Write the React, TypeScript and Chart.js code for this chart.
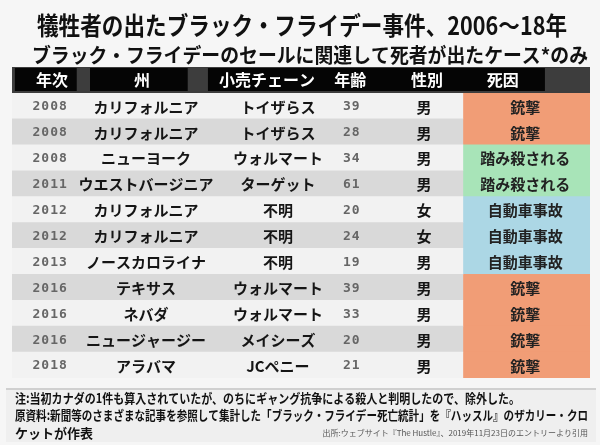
import { useEffect, useRef } from "react";
import { Chart, registerables } from "chart.js";
Chart.register(...registerables);

const titleText = "犠牲者の出たブラック・フライデー事件、2006～18年";
const subtitleText = "ブラック・フライデーのセールに関連して死者が出たケース*のみ";
const headers = ["年次", "州", "小売チェーン", "年齢", "性別", "死因"];
const years = ["2008", "2008", "2008", "2011", "2012", "2012", "2013", "2016", "2016", "2016", "2018"];
const states = ["カリフォルニア", "カリフォルニア", "ニューヨーク", "ウエストバージニア", "カリフォルニア", "カリフォルニア", "ノースカロライナ", "テキサス", "ネバダ", "ニュージャージー", "アラバマ"];
const chains = ["トイザらス", "トイザらス", "ウォルマート", "ターゲット", "不明", "不明", "不明", "ウォルマート", "ウォルマート", "メイシーズ", "JCペニー"];
const ages = ["39", "28", "34", "61", "20", "24", "19", "39", "33", "20", "21"];
const genders = ["男", "男", "男", "男", "女", "女", "男", "男", "男", "男", "男"];
const causes = ["銃撃", "銃撃", "踏み殺される", "踏み殺される", "自動車事故", "自動車事故", "自動車事故", "銃撃", "銃撃", "銃撃", "銃撃"];
const causeColors: Record<string, string> = {
  銃撃: "#F19D76",
  踏み殺される: "#A8E4B8",
  自動車事故: "#ACD7E5",
};
const noteLines = [
  "注:当初カナダの1件も算入されていたが、のちにギャング抗争による殺人と判明したので、除外した。",
  "原資料:新聞等のさまざまな記事を参照して集計した「ブラック・フライデー死亡統計」を『ハッスル』のザカリー・クロ",
  "ケットが作表",
];
const sourceText = "出所:ウェブサイト『The Hustle』、2019年11月23日のエントリーより引用";

// column layout in x-scale units (0..100)
const colCenters = [6.6, 23.2, 46.0, 58.8, 71.3, 88.8];
const headerCenters = [6.9, 22.5, 44.1, 58.5, 71.8, 84.9];
const headerBoxes = [[0.5, 11.2], [13.5, 30.4], [33.9, 92.2]];
const causeStart = 78;

const JP = '"Noto Sans CJK JP", "Noto Sans", sans-serif';
const MONO = '"DejaVu Sans Mono", monospace';

export default function App() {
  const ref = useRef<HTMLCanvasElement | null>(null);
  useEffect(() => {
    document.body.style.margin = "0";
    const canvas = ref.current!;
    const rows = years.map((_, i) => String(i));

    const tablePlugin = {
      id: "tableText",
      beforeDraw(chart: any) {
        const { ctx, scales } = chart;
        const x = scales.x;
        ctx.save();
        ctx.fillStyle = "#f6f6f6";
        ctx.fillRect(0, 0, 600, 445);
        // notes area
        ctx.fillStyle = "#efefef";
        ctx.fillRect(6, 389, 590, 53);
        ctx.fillStyle = "#d0d0d0";
        ctx.fillRect(6, 388, 590, 2);
        // header bar
        const l = x.getPixelForValue(0);
        const r = x.getPixelForValue(100);
        ctx.fillStyle = "#3d3d3d";
        ctx.fillRect(l, 67, r - l, 26);
        ctx.fillStyle = "#050505";
        headerBoxes.forEach(([a, b]) => {
          const pa = x.getPixelForValue(a);
          const pb = x.getPixelForValue(b);
          ctx.fillRect(pa, 68, pb - pa, 23);
        });
        ctx.fillStyle = "#ffffff";
        ctx.font = `bold 16px ${JP}`;
        ctx.textAlign = "center";
        ctx.textBaseline = "middle";
        headers.forEach((h, j) => {
          ctx.fillText(h, x.getPixelForValue(headerCenters[j]), 80);
        });
        // titles
        ctx.fillStyle = "#111111";
        ctx.font = `bold 25px ${JP}`;
        ctx.fillText(titleText, 302, 25, 530);
        ctx.font = `bold 20px ${JP}`;
        ctx.fillText(subtitleText, 310, 55, 556);
        ctx.restore();
      },
      afterDatasetsDraw(chart: any) {
        const { ctx, scales } = chart;
        const x = scales.x;
        const y = scales.y;
        ctx.save();
        ctx.textAlign = "center";
        ctx.textBaseline = "middle";
        rows.forEach((_, i) => {
          const py = y.getPixelForValue(i) + 1;
          ctx.fillStyle = "#666666";
          ctx.font = `bold 13px ${MONO}`;
          (ctx as any).letterSpacing = "1px";
          ctx.fillText(years[i], x.getPixelForValue(colCenters[0]), py);
          ctx.fillText(ages[i], x.getPixelForValue(colCenters[3]), py);
          (ctx as any).letterSpacing = "0px";
          ctx.fillStyle = "#151515";
          ctx.font = `bold 15px ${JP}`;
          ctx.fillText(states[i], x.getPixelForValue(colCenters[1]), py);
          ctx.fillText(chains[i], x.getPixelForValue(colCenters[2]), py);
          ctx.fillText(genders[i], x.getPixelForValue(colCenters[4]), py);
          ctx.fillStyle = "#222222";
          ctx.fillText(causes[i], x.getPixelForValue(colCenters[5]), py);
        });
        // notes
        ctx.textAlign = "left";
        ctx.fillStyle = "#111111";
        ctx.font = `bold 13px ${JP}`;
        ctx.fillText(noteLines[0], 15, 398, 505);
        ctx.fillText(noteLines[1], 15, 415, 573);
        ctx.fillText(noteLines[2], 15, 433, 80);
        ctx.textAlign = "right";
        ctx.fillStyle = "#555555";
        ctx.font = `8px ${JP}`;
        ctx.fillText(sourceText, 588, 433, 300);
        ctx.restore();
      },
    };

    const chart = new Chart(canvas, {
      type: "bar",
      data: {
        labels: rows,
        datasets: [
          {
            data: rows.map(() => [0, causeStart]) as any,
            backgroundColor: rows.map((_, i) => (i % 2 === 0 ? "#f2f2f2" : "#d9d9d9")),
            borderWidth: 0,
            barPercentage: 1,
            categoryPercentage: 1,
            grouped: false,
          } as any,
          {
            data: rows.map(() => [causeStart, 100]) as any,
            backgroundColor: causes.map((c) => causeColors[c]),
            borderWidth: 0,
            barPercentage: 1,
            categoryPercentage: 1,
            grouped: false,
          } as any,
        ],
      },
      options: {
        indexAxis: "y",
        animation: false,
        responsive: false,
        events: [],
        layout: { padding: { left: 12, right: 10, top: 93, bottom: 67 } },
        scales: {
          x: { type: "linear", min: 0, max: 100, display: false },
          y: { type: "category", display: false },
        },
        plugins: {
          legend: { display: false },
          tooltip: { enabled: false },
          title: { display: false },
        },
      },
      plugins: [tablePlugin],
    });
    return () => chart.destroy();
  }, []);
  return (
    <div style={{ width: 600, height: 445 }}>
      <canvas ref={ref} width={600} height={445} />
    </div>
  );
}
